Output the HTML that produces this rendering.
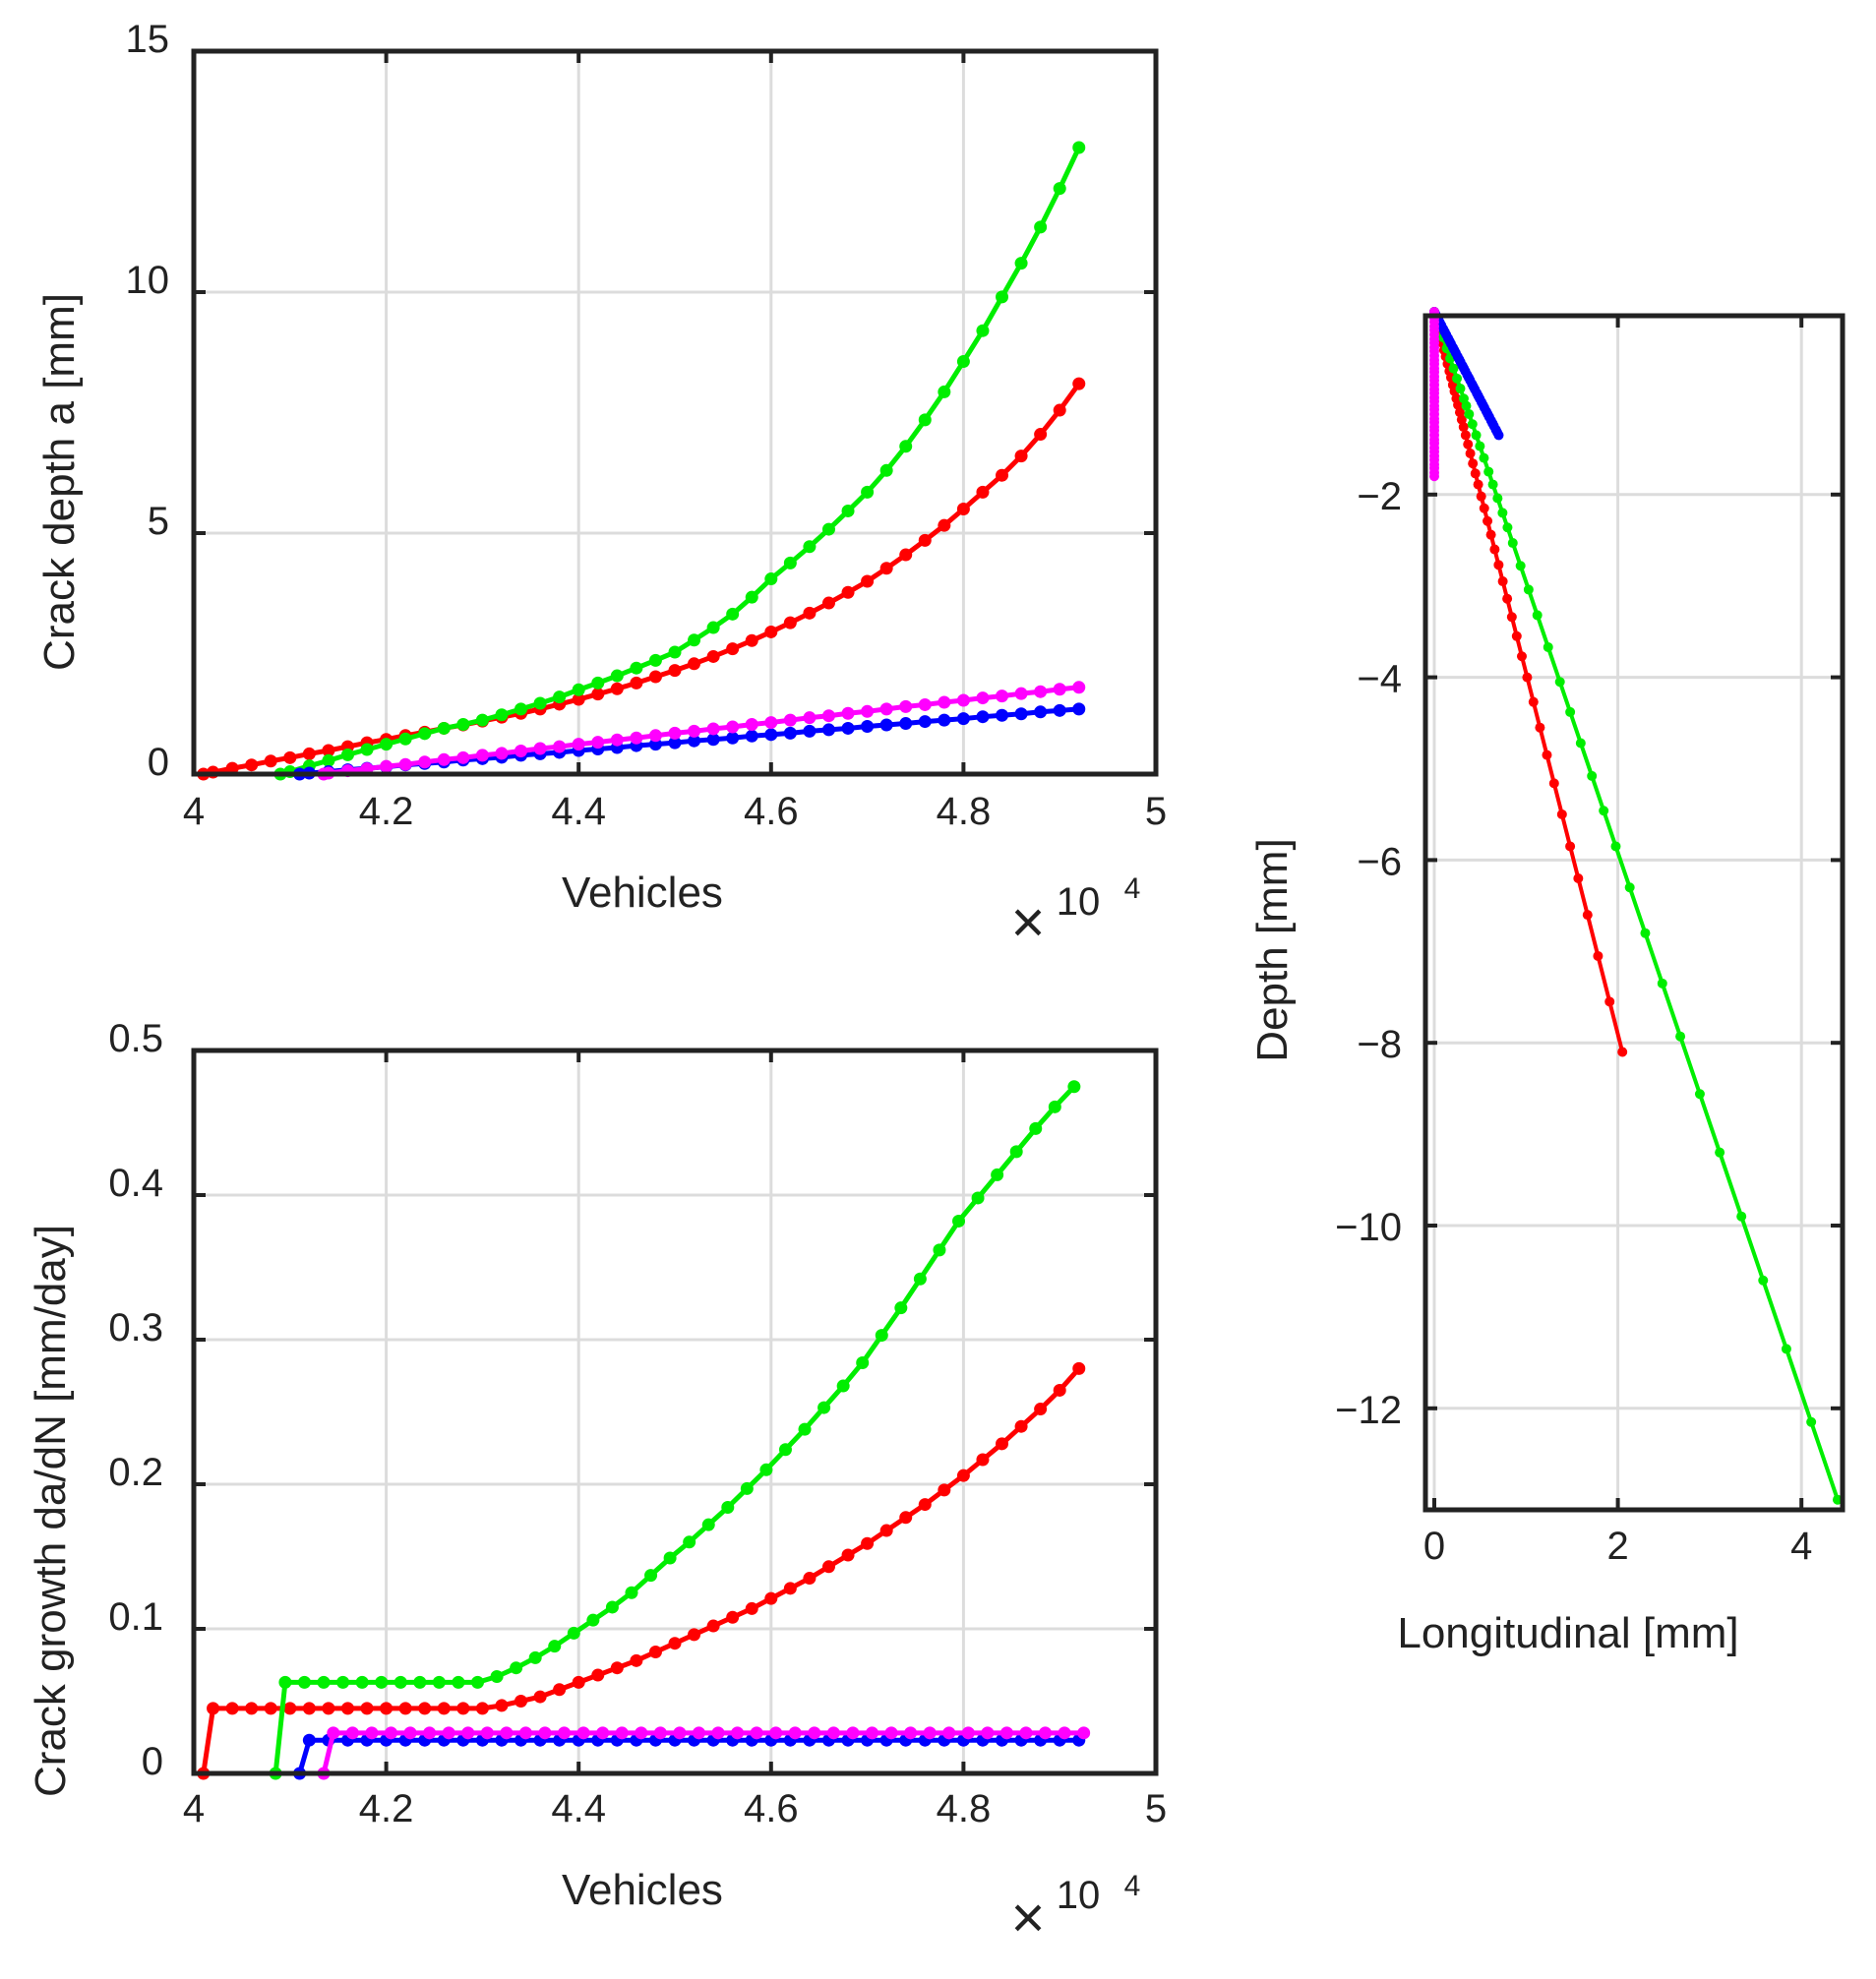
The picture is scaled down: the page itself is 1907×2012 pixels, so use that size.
<!DOCTYPE html>
<html><head><meta charset="utf-8"><style>
html,body{margin:0;padding:0;background:#fff;}
svg{display:block;font-family:"Liberation Sans",Arial,sans-serif;}
</style></head><body>
<svg id="fig" width="1907" height="2012" viewBox="0 0 1907 2012" xmlns="http://www.w3.org/2000/svg">
<g id="axA"></g>
<g id="axB"></g>
<g id="axC"></g>
</svg>
<script>
// ---------- data ----------
const colors = ["#ff0000","#00ee00","#0000ff","#ff00ff"];
const seriesNames = ["red","green","blue","magenta"];
const xStart = [4.01, 4.09, 4.11, 4.135];
const gridStart = [4.02, 4.10, 4.12, 4.14];
const rateStart = [4.01, 4.085, 4.11, 4.135];
const rateGridStart = [4.02, 4.095, 4.12, 4.145];
const stepX = 0.02;

const depthRed = [0.04,0.12,0.19,0.27,0.34,0.42,0.49,0.57,0.65,0.72,0.80,0.87,0.95,1.02,1.10,1.18,1.26,1.35,1.45,1.55,1.66,1.77,1.89,2.02,2.15,2.29,2.44,2.60,2.77,2.95,3.14,3.34,3.55,3.77,4.00,4.27,4.55,4.85,5.16,5.50,5.85,6.20,6.60,7.05,7.55,8.10];
const depthGreen = [0.05,0.17,0.28,0.40,0.51,0.62,0.73,0.84,0.95,1.03,1.12,1.23,1.35,1.47,1.60,1.75,1.89,2.04,2.20,2.36,2.53,2.78,3.04,3.32,3.67,4.05,4.38,4.72,5.08,5.46,5.85,6.30,6.80,7.35,7.93,8.56,9.20,9.90,10.60,11.35,12.15,13.00];
const depthBlue = [0.02,0.05,0.09,0.12,0.15,0.19,0.22,0.25,0.29,0.32,0.35,0.39,0.42,0.45,0.49,0.52,0.55,0.59,0.62,0.65,0.69,0.72,0.75,0.79,0.82,0.85,0.89,0.92,0.95,0.99,1.02,1.05,1.09,1.12,1.15,1.19,1.22,1.25,1.29,1.32,1.35];
const depthMagenta = [0.02,0.07,0.11,0.16,0.20,0.25,0.30,0.34,0.39,0.43,0.48,0.53,0.57,0.62,0.66,0.71,0.75,0.80,0.85,0.89,0.94,0.98,1.03,1.07,1.12,1.17,1.21,1.26,1.30,1.35,1.40,1.44,1.49,1.53,1.58,1.62,1.67,1.71,1.76,1.80];

const rateRed = [0.045,0.045,0.045,0.045,0.045,0.045,0.045,0.045,0.045,0.045,0.045,0.045,0.045,0.045,0.045,0.047,0.050,0.053,0.058,0.063,0.068,0.073,0.078,0.084,0.090,0.096,0.102,0.108,0.114,0.121,0.128,0.135,0.143,0.151,0.159,0.168,0.177,0.186,0.196,0.206,0.217,0.228,0.240,0.252,0.265,0.280];
const rateGreen = [0.063,0.063,0.063,0.063,0.063,0.063,0.063,0.063,0.063,0.063,0.063,0.067,0.073,0.080,0.088,0.097,0.106,0.115,0.125,0.137,0.149,0.160,0.172,0.184,0.197,0.210,0.224,0.238,0.253,0.268,0.284,0.303,0.322,0.342,0.362,0.382,0.398,0.414,0.430,0.446,0.461,0.475];
const rateBlue = [0.023,0.023,0.023,0.023,0.023,0.023,0.023,0.023,0.023,0.023,0.023,0.023,0.023,0.023,0.023,0.023,0.023,0.023,0.023,0.023,0.023,0.023,0.023,0.023,0.023,0.023,0.023,0.023,0.023,0.023,0.023,0.023,0.023,0.023,0.023,0.023,0.023,0.023,0.023,0.023,0.023];
const rateMagenta = [0.028,0.028,0.028,0.028,0.028,0.028,0.028,0.028,0.028,0.028,0.028,0.028,0.028,0.028,0.028,0.028,0.028,0.028,0.028,0.028,0.028,0.028,0.028,0.028,0.028,0.028,0.028,0.028,0.028,0.028,0.028,0.028,0.028,0.028,0.028,0.028,0.028,0.028,0.028,0.028];

const slopeLong = [0.253, 0.338, 0.52, 0.0];

const xTicksTop = [4,4.2,4.4,4.6,4.8,5];
const xTickLabels = ["4","4.2","4.4","4.6","4.8","5"];
const yTicksA = [0,5,10,15];
const yTicksB = [0,0.1,0.2,0.3,0.4,0.5];
const yTickLabelsB = ["0","0.1","0.2","0.3","0.4","0.5"];
const xTicksC = [0,2,4];
const yTicksC = [2,4,6,8,10,12];

// ---------- helpers ----------
const NS = "http://www.w3.org/2000/svg";
function mk(parent, tag, attrs){ const e=document.createElementNS(NS,tag); for(const k in attrs) e.setAttribute(k,attrs[k]); parent.appendChild(e); return e; }

const A={l:197,r:1175,t:52,b:787};
const B={l:197,r:1175,t:1068,b:1803};
const C={l:1449,r:1873,t:321,b:1535};
const xA=v=>A.l+(v-4)*(A.r-A.l);
const yA=d=>A.b-d*(A.b-A.t)/15;
const yB=r=>B.b-r*(B.b-B.t)/0.5;
const xC=v=>1458+v*93.3;
const yC=d=>317+d*92.9;

function frame(g,box,name){
  const f=mk(g,"rect",{x:box.l,y:box.t,width:box.r-box.l,height:box.b-box.t,fill:"none",stroke:"#222","stroke-width":5});
  
  
}
function grid(g,x1,y1,x2,y2){ mk(g,"line",{x1:x1,y1:y1,x2:x2,y2:y2,stroke:"#dcdcdc","stroke-width":3}); }
function tick(g,x1,y1,x2,y2){ mk(g,"line",{x1:x1,y1:y1,x2:x2,y2:y2,stroke:"#222","stroke-width":4}); }
function txt(g,x,y,s,size,anchor,name,rot){
  const t=mk(g,"text",{x:x,y:y,"font-size":size,fill:"#222","text-anchor":anchor||"middle"});
  if(rot) t.setAttribute("transform",`rotate(-90 ${x} ${y})`);
  t.textContent=s;
  
  
  return t;
}
function series(g,pts,color,name,r,w){
  const p=mk(g,"polyline",{points:pts.map(q=>q.join(",")).join(" "),fill:"none",stroke:color,"stroke-width":w,"stroke-linejoin":"round","stroke-linecap":"round"});
  
  
  pts.forEach(q=>{
    const c=mk(g,"circle",{cx:q[0],cy:q[1],r:r,fill:color});
    
    
  });
}

const depths=[depthRed,depthGreen,depthBlue,depthMagenta];
const rates=[rateRed,rateGreen,rateBlue,rateMagenta];

// ---------- plot A ----------
const gA=document.getElementById("axA");
xTicksTop.slice(1,-1).forEach(v=>{grid(gA,xA(v),A.t,xA(v),A.b);tick(gA,xA(v),A.b,xA(v),A.b-12);tick(gA,xA(v),A.t,xA(v),A.t+12);});
yTicksA.slice(1,-1).forEach(v=>{grid(gA,A.l,yA(v),A.r,yA(v));tick(gA,A.l,yA(v),A.l+12,yA(v));tick(gA,A.r,yA(v),A.r-12,yA(v));});
depths.forEach((arr,i)=>{
  const pts=[[xA(xStart[i]),yA(0)]];
  arr.forEach((d,k)=>pts.push([xA(gridStart[i]+k*stepX),yA(d)]));
  series(gA,pts,colors[i],'depth-'+seriesNames[i],6.5,5);
});
frame(gA,A,"depth-axes-box");
xTicksTop.forEach((v,i)=>txt(gA,xA(v),838,xTickLabels[i],40,"middle","x-tick-label"));
yTicksA.forEach(v=>txt(gA,172,yA(v)+1,String(v),40,"end","y-tick-label"));
txt(gA,653,922,"Vehicles",44,"middle","x-axis-title");
txt(gA,75,490,"Crack depth a [mm]",44,"middle","y-axis-title",true);
txt(gA,1045,958,"×",60,"middle","x-scale-times");
txt(gA,1096,930,"10",40,"middle","x-scale-ten");
txt(gA,1151,913,"4",30,"middle","x-scale-exponent");

// ---------- plot B ----------
const gB=document.getElementById("axB");
xTicksTop.slice(1,-1).forEach(v=>{grid(gB,xA(v),B.t,xA(v),B.b);tick(gB,xA(v),B.b,xA(v),B.b-12);tick(gB,xA(v),B.t,xA(v),B.t+12);});
yTicksB.slice(1,-1).forEach(v=>{grid(gB,B.l,yB(v),B.r,yB(v));tick(gB,B.l,yB(v),B.l+12,yB(v));tick(gB,B.r,yB(v),B.r-12,yB(v));});
rates.forEach((arr,i)=>{
  const pts=[[xA(rateStart[i]),yB(0)]];
  arr.forEach((r,k)=>pts.push([xA(rateGridStart[i]+k*stepX),yB(r)]));
  series(gB,pts,colors[i],'rate-'+seriesNames[i],6.5,5);
});
frame(gB,B,"rate-axes-box");
xTicksTop.forEach((v,i)=>txt(gB,xA(v),1852,xTickLabels[i],40,"middle","x-tick-label"));
yTicksB.forEach((v,i)=>txt(gB,166,yB(v)+1,yTickLabelsB[i],40,"end","y-tick-label"));
txt(gB,653,1936,"Vehicles",44,"middle","x-axis-title");
txt(gB,66,1536,"Crack growth da/dN [mm/day]",44,"middle","y-axis-title",true);
txt(gB,1045,1970,"×",60,"middle","x-scale-times");
txt(gB,1096,1940,"10",40,"middle","x-scale-ten");
txt(gB,1151,1927,"4",30,"middle","x-scale-exponent");

// ---------- plot C ----------
const gC=document.getElementById("axC");
xTicksC.forEach(v=>{grid(gC,xC(v),C.t,xC(v),C.b);tick(gC,xC(v),C.b,xC(v),C.b-12);tick(gC,xC(v),C.t,xC(v),C.t+12);});
yTicksC.forEach(v=>{grid(gC,C.l,yC(v),C.r,yC(v));tick(gC,C.l,yC(v),C.l+12,yC(v));tick(gC,C.r,yC(v),C.r-12,yC(v));});
[0,1,2,3].forEach(i=>{
  const arr=depths[i];
  const pts=[[xC(0),yC(0)]];
  arr.forEach(d=>pts.push([xC(d*slopeLong[i]),yC(d)]));
  const thick=(i>=2);
  series(gC,pts,colors[i],'path-'+seriesNames[i],thick?5:5,thick?9:4);
});
frame(gC,C,"path-axes-box");
xTicksC.forEach(v=>txt(gC,xC(v),1585,String(v),40,"middle","x-tick-label"));
yTicksC.forEach(v=>txt(gC,1425,yC(v)+15,"−"+v,40,"end","y-tick-label"));
txt(gC,1594,1675,"Longitudinal [mm]",44,"middle","x-axis-title");
txt(gC,1308,966,"Depth [mm]",44,"middle","y-axis-title",true);
</script>
</body></html>
